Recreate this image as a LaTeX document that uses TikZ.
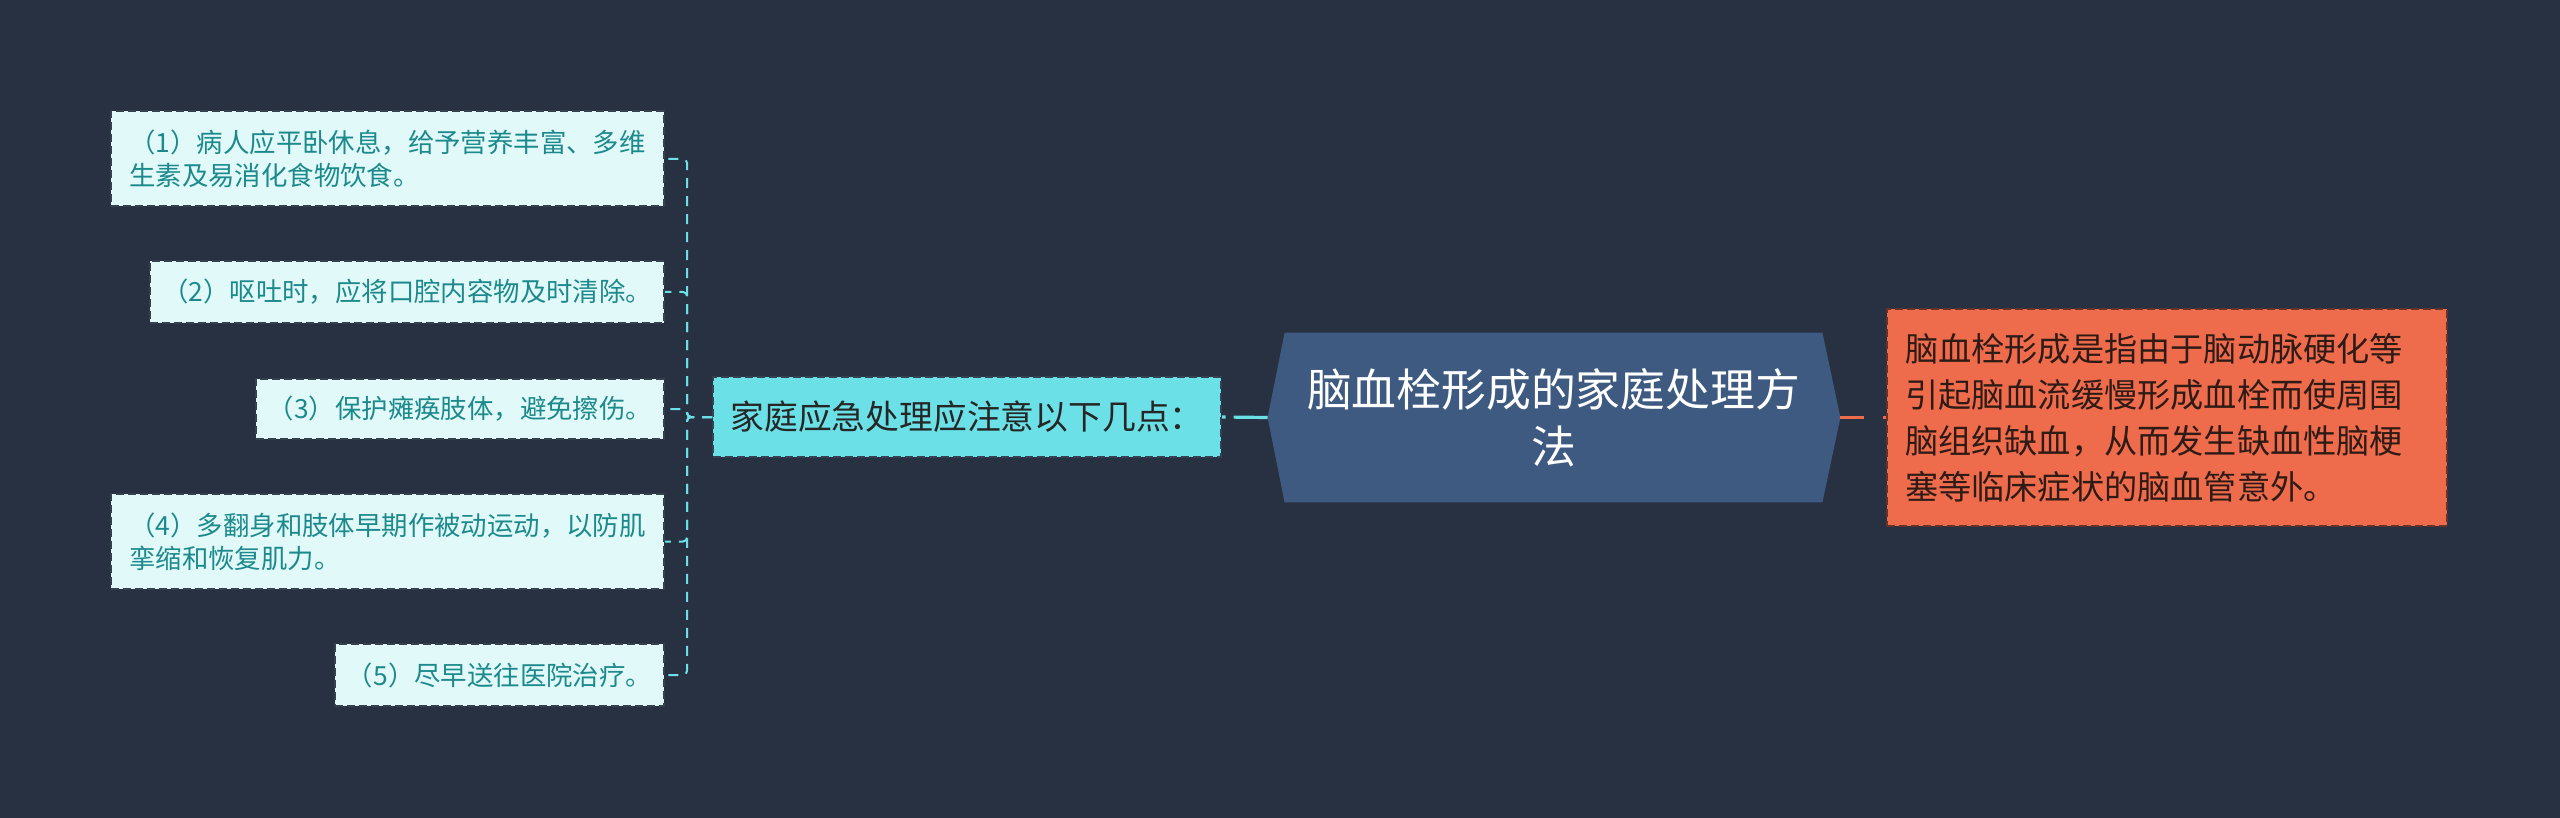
\documentclass[tikz,border=0pt]{standalone}
\usepackage{fontspec}
\setmainfont{Noto Sans CJK SC}
\usetikzlibrary{backgrounds}

\definecolor{bgcol}{HTML}{283142}
\definecolor{leaffill}{HTML}{E1F9F8}
\definecolor{leaftext}{HTML}{1C8A8C}
\definecolor{cyancol}{HTML}{6BE0E6}
\definecolor{rootfill}{HTML}{3E5A80}
\definecolor{redfill}{HTML}{EE6B4C}
\definecolor{redtext}{HTML}{2E1B16}
\definecolor{boxline}{HTML}{35414E}

\tikzset{
  leaf/.style={anchor=east, fill=leaffill, draw=boxline, line width=1pt,
    dash pattern=on 4pt off 2pt, text=leaftext, align=left, inner xsep=6pt,
    font=\fontsize{13.2}{16.5}\selectfont},
  leafln/.style={draw=cyancol, line width=1pt, dash pattern=on 5pt off 4pt,
    rounded corners=2pt},
}

\begin{document}
\begin{tikzpicture}[x=0.5pt, y=-0.5pt]
  \begin{scope}[on background layer]
    \fill[bgcol] (0,0) rectangle (2560,818);
  \end{scope}
  \useasboundingbox (0,0) rectangle (2560,818);

  \node[leaf, minimum width=276.5pt, minimum height=47.5pt] (leafa) at (665,159)
    {（1）病人应平卧休息，给予营养丰富、多维\\生素及易消化食物饮食。};
  \node[leaf, minimum width=254.5pt, minimum height=31pt] (leafb) at (665,292)
    {（2）呕吐时，应将口腔内容物及时清除。};
  \node[leaf, minimum width=202.5pt, minimum height=30pt] (leafc) at (665,409)
    {（3）保护瘫痪肢体，避免擦伤。};
  \node[leaf, minimum width=276.5pt, minimum height=47.5pt] (leafd) at (665,541.5)
    {（4）多翻身和肢体早期作被动运动，以防肌\\挛缩和恢复肌力。};
  \node[leaf, minimum width=163.5pt, minimum height=31pt] (leafe) at (665,675)
    {（5）尽早送往医院治疗。};

  \node[fill=cyancol, draw=boxline, line width=1pt, dash pattern=on 4pt off 2pt,
    minimum width=254pt, minimum height=40pt, text=black!85,
    font=\fontsize{16.9}{20}\selectfont] (mid) at (967,417) {家庭应急处理应注意以下几点：};

  \node[minimum width=268.5pt, minimum height=84.5pt, align=center, text=white,
    font=\fontsize{22.4}{28.5}\selectfont] (root) at (1553.5,417.5)
    {脑血栓形成的家庭处理方\\法};
  \coordinate (rootw) at ([xshift=-8.5pt]root.west);
  \coordinate (roote) at ([xshift=9pt]root.east);
  \begin{scope}[on background layer]
    \fill[rootfill] (root.north west) -- (root.north east) -- (roote)
      -- (root.south east) -- (root.south west) -- (rootw) -- cycle;
  \end{scope}

  \node[fill=redfill, draw=redtext!70!redfill, line width=1pt, dash pattern=on 4pt off 2pt,
    text width=262pt, inner xsep=9pt, minimum height=108pt, align=left, text=redtext,
    font=\fontsize{16.6}{23}\selectfont] (detail) at (2167,417.5)
    {脑血栓形成是指由于脑动脉硬化等\\引起脑血流缓慢形成血栓而使周围\\脑组织缺血，从而发生缺血性脑梗\\塞等临床症状的脑血管意外。};

  \foreach \n in {leafa,leafb,leafc,leafd,leafe}
    \draw[leafln] (mid.west) -- ++(-25,0) |- (\n.east);
  \draw[cyancol, line width=1.6pt, dash pattern=on 17pt off 4pt] (rootw) -- (mid.east);
  \draw[redfill, line width=1.6pt, dash pattern=on 12pt off 9.5pt] (roote) -- (detail.west);
\end{tikzpicture}
\end{document}
